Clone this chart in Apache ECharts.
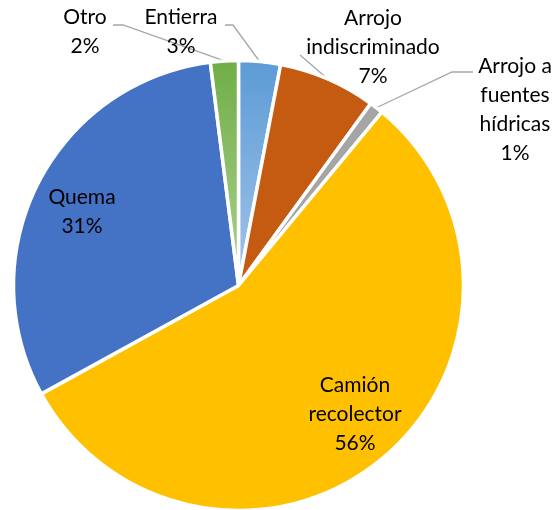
<!DOCTYPE html>
<html>
<head>
<meta charset="utf-8">
<script src="https://cdn.jsdelivr.net/npm/echarts@6/dist/echarts.min.js"></script>
<style>
  html, body { margin: 0; padding: 0; background: #fff; }
  #chart { width: 557px; height: 510px; }
</style>
</head>
<body>
<div id="chart"></div>
<script>
// categories in drawing order, clockwise from 12 o'clock
const categories = ['Entierra', 'Arrojo\nindiscriminado', 'Arrojo a\nfuentes\nhídricas', 'Camión\nrecolector', 'Quema', 'Otro'];
const values = [3, 7, 1, 56, 31, 2];

// label anchor (centre of text block) and which labels sit outside with a leader
const labelPos = [[181, 32], [373, 47], [515, 110], [355, 414], [82, 212], [85, 32]];
const outside = [true, true, true, false, false, true];
// where the leader line meets the text: [elbowX, elbowY, endX]
const leaderEnd = [[233, 25, 225], [300, 55, 300], [452, 72, 473], null, null, [123, 25, 113]];

const colors = [
  new echarts.graphic.LinearGradient(0, 0, 0, 1, [
    { offset: 0, color: '#5b9bd5' }, { offset: 1, color: '#a4c5ea' }
  ]),
  '#c55a11',
  '#a5a5a5',
  '#ffc000',
  '#4472c4',
  new echarts.graphic.LinearGradient(0, 0, 0, 1, [
    { offset: 0, color: '#70ad47' }, { offset: 1, color: '#acd392' }
  ])
];

const chart = echarts.init(document.getElementById('chart'));

chart.setOption({
  animation: false,
  series: [{
    type: 'pie',
    center: [238.5, 285.5],
    radius: [0, 225],
    startAngle: 90,
    clockwise: true,
    percentPrecision: 0,
    itemStyle: { borderColor: '#fff', borderWidth: 3.5 },
    label: {
      formatter: '{b}\n{d}%',
      fontFamily: 'Lato',
      fontSize: 21,
      lineHeight: 29,
      color: '#000',
      align: 'center',
      overflow: 'none'
    },
    labelLine: { lineStyle: { color: '#a6a6a6', width: 1.3 }, length: 10, length2: 10 },
    labelLayout: function (params) {
      const i = params.dataIndex;
      const p = labelPos[i];
      const res = { x: p[0], y: p[1], align: 'center', verticalAlign: 'middle' };
      if (outside[i] && params.labelLinePoints) {
        const e = leaderEnd[i];
        res.labelLinePoints = [params.labelLinePoints[0], [e[0], e[1]], [e[2], e[1]]];
      }
      return res;
    },
    data: categories.map(function (name, i) {
      return {
        name: name,
        value: values[i],
        itemStyle: { color: colors[i] },
        label: { position: outside[i] ? 'outside' : 'inside' },
        labelLine: { show: outside[i] }
      };
    })
  }]
});
</script>
</body>
</html>
